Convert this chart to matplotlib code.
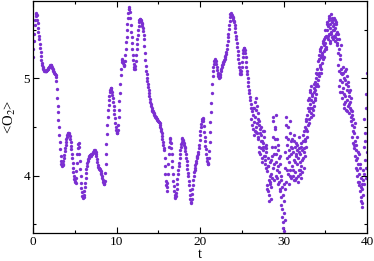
import numpy as np
import matplotlib
matplotlib.use("Agg")
import matplotlib.pyplot as plt
from matplotlib.ticker import MultipleLocator

plt.rcParams['font.family'] = ['Liberation Serif', 'DejaVu Serif']
plt.rcParams['mathtext.fontset'] = 'stix'

# <O2> sampled every 0.05 in t, starting at t = 0
dt = 0.05
o2_smooth = [
    5.22, 5.30, 5.38, 5.46, 5.55, 5.60, 5.64, 5.66, 5.67, 5.65, 5.60, 5.57, 5.52, 5.48, 5.44, 5.40, 5.35, 5.31, 5.27, 5.23,
    5.19, 5.16, 5.14, 5.12, 5.11, 5.10, 5.09, 5.08, 5.08, 5.08, 5.08, 5.08, 5.08, 5.09, 5.09, 5.10, 5.10, 5.11, 5.12, 5.12,
    5.13, 5.14, 5.14, 5.14, 5.13, 5.12, 5.11, 5.10, 5.09, 5.08, 5.07, 5.06, 5.05, 5.04, 5.03, 5.01, 4.97, 4.89, 4.80, 4.72,
    4.65, 4.57, 4.50, 4.42, 4.35, 4.27, 4.20, 4.15, 4.12, 4.11, 4.10, 4.11, 4.12, 4.15, 4.18, 4.21, 4.25, 4.28, 4.32, 4.35,
    4.38, 4.40, 4.42, 4.43, 4.44, 4.44, 4.44, 4.43, 4.41, 4.38, 4.35, 4.31, 4.27, 4.22, 4.18, 4.13, 4.08, 4.04, 4.00, 3.97,
    3.95, 3.94, 3.93, 3.98, 4.05, 4.13, 4.22, 4.28, 4.33, 4.34, 4.30, 4.22, 4.15, 4.07, 4.00, 3.93, 3.87, 3.83, 3.79, 3.78,
    3.77, 3.78, 3.80, 3.84, 3.88, 3.93, 3.98, 4.03, 4.07, 4.10, 4.13, 4.15, 4.17, 4.18, 4.19, 4.20, 4.21, 4.21, 4.20, 4.21,
    4.22, 4.22, 4.22, 4.23, 4.24, 4.24, 4.25, 4.26, 4.26, 4.25, 4.24, 4.22, 4.20, 4.17, 4.14, 4.11, 4.09, 4.08, 4.08, 4.07,
    4.07, 4.06, 4.05, 4.03, 4.02, 4.00, 3.98, 3.96, 3.94, 3.93, 3.92, 3.92, 3.95, 4.03, 4.12, 4.22, 4.33, 4.43, 4.52, 4.60,
    4.68, 4.73, 4.78, 4.82, 4.86, 4.88, 4.90, 4.90, 4.88, 4.86, 4.83, 4.80, 4.76, 4.72, 4.68, 4.63, 4.59, 4.54, 4.50, 4.47,
    4.45, 4.44, 4.44, 4.47, 4.52, 4.60, 4.68, 4.77, 4.85, 4.94, 5.03, 5.10, 5.17, 5.19, 5.20, 5.18, 5.16, 5.14, 5.13, 5.14,
    5.18, 5.24, 5.30, 5.37, 5.43, 5.50, 5.56, 5.62, 5.67, 5.71, 5.73, 5.71, 5.68, 5.62, 5.55, 5.48, 5.42, 5.36, 5.30, 5.24,
    5.19, 5.15, 5.12, 5.10, 5.10, 5.13, 5.18, 5.24, 5.30, 5.35, 5.40, 5.45, 5.50, 5.54, 5.58, 5.60, 5.61, 5.61, 5.60, 5.59,
    5.57, 5.56, 5.54, 5.52, 5.49, 5.45, 5.40, 5.33, 5.26, 5.19, 5.13, 5.08, 5.04, 5.00, 4.97, 4.94, 4.91, 4.88, 4.85, 4.82,
    4.79, 4.76, 4.74, 4.72, 4.70, 4.68, 4.67, 4.66, 4.65, 4.64, 4.63, 4.62, 4.61, 4.60, 4.60, 4.59, 4.58, 4.58, 4.57, 4.56,
    4.56, 4.55, 4.55, 4.54, 4.52, 4.50, 4.48, 4.46, 4.44, 4.41, 4.38, 4.35, 4.32, 4.29, 4.26, 4.18, 4.10, 4.02, 3.95, 3.90,
    3.84, 3.88, 3.93, 4.02, 4.12, 4.22, 4.30, 4.35, 4.39, 4.38, 4.34, 4.28, 4.22, 4.15, 4.09, 4.02, 3.95, 3.89, 3.84, 3.80,
    3.78, 3.77, 3.79, 3.82, 3.86, 3.92, 3.97, 4.02, 4.06, 4.10, 4.13, 4.18, 4.22, 4.26, 4.30, 4.33, 4.35, 4.38, 4.39, 4.37,
    4.36, 4.34, 4.32, 4.30, 4.28, 4.25, 4.22, 4.18, 4.15, 4.11, 4.07, 4.03, 4.00, 3.95, 3.90, 3.85, 3.80, 3.76, 3.73, 3.72,
    3.76, 3.81, 3.86, 3.91, 3.96, 4.00, 4.04, 4.06, 4.08, 4.11, 4.13, 4.15, 4.18, 4.19, 4.20, 4.22, 4.24, 4.28, 4.32, 4.37,
    4.42, 4.46, 4.50, 4.53, 4.56, 4.58, 4.59, 4.58, 4.56, 4.51, 4.45, 4.40, 4.36, 4.31, 4.27, 4.22, 4.18, 4.15, 4.13, 4.12,
    4.12, 4.18, 4.25, 4.35, 4.45, 4.55, 4.65, 4.75, 4.85, 4.94, 5.02, 5.08, 5.12, 5.15, 5.18, 5.19, 5.20, 5.19, 5.18, 5.15,
    5.12, 5.09, 5.06, 5.04, 5.02, 5.01, 5.00, 5.01, 5.03, 5.05, 5.08, 5.10, 5.12, 5.14, 5.15, 5.16, 5.17, 5.18, 5.19, 5.20,
    5.22, 5.23, 5.25, 5.27, 5.30, 5.34, 5.38, 5.42, 5.46, 5.51, 5.55, 5.59, 5.63, 5.66, 5.67, 5.66, 5.65, 5.64, 5.63, 5.62,
    5.60, 5.59, 5.58, 5.55, 5.52, 5.48, 5.44, 5.40, 5.36, 5.32, 5.28, 5.24, 5.20, 5.16, 5.12, 5.09, 5.06, 5.05, 5.05, 5.08,
    5.12, 5.17, 5.22, 5.26, 5.29, 5.31, 5.31, 5.29, 5.26, 5.22, 5.17, 5.12, 5.08, 5.04, 5.00, 4.96, 4.92, 4.88, 4.85, 4.81,
]
o2_noisy = [
    4.78, 4.74, 4.70, 4.58, 4.66, 4.52, 4.62, 4.48, 4.70, 4.55, 4.42, 4.76, 4.60, 4.45, 4.68, 4.50, 4.72, 4.44, 4.58, 4.64,
    4.38, 4.56, 4.30, 4.48, 4.22, 4.42, 4.50, 4.28, 4.36, 4.18, 4.46, 4.26, 4.34, 4.20, 4.40, 4.16, 4.30, 4.24, 4.08, 4.32,
    4.05, 3.90, 4.18, 3.84, 4.10, 3.96, 3.80, 4.14, 3.92, 3.76, 4.02, 3.88, 4.20, 3.98, 4.40, 4.08, 4.56, 4.22, 3.96, 4.50,
    4.30, 4.00, 4.62, 4.14, 4.38, 3.98, 4.26, 4.10, 3.92, 4.18, 4.04, 3.86, 4.12, 3.78, 3.96, 3.70, 3.88, 3.58, 3.80, 3.46,
    3.43, 3.62, 3.92, 3.55, 4.08, 4.40, 3.94, 4.60, 4.18, 4.32, 4.02, 4.50, 4.14, 3.92, 4.26, 4.44, 4.06, 4.36, 3.98, 4.22,
    4.10, 4.38, 4.00, 4.24, 4.42, 3.96, 4.16, 4.30, 4.04, 4.20, 3.98, 4.34, 4.12, 4.26, 3.94, 4.18, 4.40, 4.06, 4.28, 4.02,
    4.22, 3.98, 4.34, 4.10, 4.26, 4.04, 4.18, 4.36, 4.08, 4.28, 4.46, 4.20, 4.38, 4.56, 4.30, 4.48, 4.62, 4.40, 4.70, 4.52,
    4.66, 4.80, 4.58, 4.74, 4.88, 4.64, 4.78, 4.92, 4.70, 4.84, 4.62, 4.76, 4.90, 4.72, 4.86, 4.96, 4.80, 4.92, 4.84, 5.00,
    4.94, 5.10, 4.98, 5.18, 5.06, 5.24, 5.02, 5.14, 5.28, 5.10, 5.22, 5.32, 5.16, 5.26, 5.38, 5.20, 5.34, 5.28, 5.40, 5.30,
    5.36, 5.44, 5.30, 5.50, 5.42, 5.58, 5.40, 5.54, 5.64, 5.46, 5.60, 5.36, 5.52, 5.66, 5.48, 5.58, 5.42, 5.62, 5.54, 5.50,
    5.56, 5.44, 5.62, 5.38, 5.52, 5.46, 5.58, 5.34, 5.48, 5.40, 5.26, 5.46, 5.08, 5.30, 4.92, 5.20, 4.86, 5.10, 5.34, 4.96,
    5.04, 4.80, 5.12, 4.90, 4.70, 5.00, 4.84, 5.08, 4.76, 4.94, 4.68, 4.88, 5.02, 4.78, 4.92, 4.72, 4.86, 4.64, 4.82, 4.70,
    4.76, 4.60, 4.80, 4.52, 4.66, 4.40, 4.58, 4.34, 4.50, 4.28, 4.44, 4.20, 4.36, 4.08, 4.26, 4.00, 4.18, 4.40, 3.94, 4.12,
    4.02, 4.22, 3.90, 4.08, 3.84, 3.98, 3.74, 3.92, 3.68, 3.86, 3.80, 3.96, 4.30, 4.02, 4.58, 4.16, 4.44, 3.98, 4.70, 4.24,
    5.06,
]
o2 = np.array(o2_smooth + o2_noisy)
t = np.arange(len(o2)) * dt

# extra scattered samples in the noisy part, every 0.1 starting at t = 26.525
t_extra_start = 26.525
o2_extra = [
    4.70, 4.46, 4.80, 4.54, 4.40,
    4.52, 4.24, 4.44, 4.36, 4.14, 4.30, 4.46, 4.20, 4.12, 4.28,
    3.86, 4.10, 3.74, 4.00, 3.94, 4.16, 4.30, 4.60, 4.12, 4.38,
    4.48, 4.22, 4.06, 4.32, 3.94, 4.20, 3.84, 4.00, 3.66, 3.52,
    3.74, 3.86, 4.24, 4.52, 4.06, 4.38, 4.20, 4.56, 4.00, 4.30,
    4.28, 4.06, 4.36, 4.14, 3.96, 4.22, 4.32, 4.00, 4.24, 4.14,
    4.06, 4.30, 4.16, 4.42, 4.24, 4.50, 4.36, 4.58, 4.46, 4.78,
    4.54, 4.70, 4.86, 4.60, 4.82, 4.68, 4.94, 4.78, 4.88, 5.06,
    5.04, 4.92, 5.20, 5.12, 5.30, 5.06, 5.24, 5.36, 5.22, 5.42,
    5.50, 5.32, 5.56, 5.44, 5.62, 5.38, 5.56, 5.46, 5.60, 5.40,
    5.50, 5.60, 5.42, 5.56, 5.36, 5.14, 5.40, 4.98, 5.24, 5.06,
    4.86, 5.06, 4.74, 4.98, 4.82, 5.10, 4.66, 4.96, 4.74, 4.88,
    4.68, 4.56, 4.62, 4.46, 4.32, 4.54, 4.16, 4.32, 4.06, 4.24,
    3.94, 4.12, 3.78, 3.88, 3.72, 4.06, 3.92, 4.36, 4.08, 4.84,
]
t_extra = t_extra_start + np.arange(len(o2_extra)) * 0.1

x_ticks = [0, 10, 20, 30, 40]
y_ticks = [4, 5]
color = '#7b2fd1'

fig = plt.figure(figsize=(3.74, 2.61), dpi=100)
ax = fig.add_axes([33 / 374, 1 - 233 / 261, (367 - 33) / 374, (233 - 0.5) / 261])
ax.plot(t, o2, linestyle='none', marker='o', markersize=2.4,
        markeredgewidth=0, color=color)
ax.plot(t_extra, o2_extra, linestyle='none', marker='o', markersize=2.4,
        markeredgewidth=0, color=color)

ax.set_xlim(0, 40)
ax.set_ylim(3.412, 5.80)
ax.set_xticks(x_ticks)
ax.set_yticks(y_ticks)
ax.xaxis.set_minor_locator(MultipleLocator(5))
ax.yaxis.set_minor_locator(MultipleLocator(0.5))
ax.tick_params(which='both', direction='in', top=True, right=True,
               labelsize=9.5, width=0.8, pad=2)
ax.tick_params(which='major', length=4.5)
ax.tick_params(which='minor', length=2.3)
for s in ax.spines.values():
    s.set_linewidth(0.9)
ax.set_xlabel('t', fontsize=10.5, labelpad=0)
ax.set_ylabel(r'<O$_2$>', fontsize=10.5, labelpad=4)

fig.savefig('out.png', dpi=100)
